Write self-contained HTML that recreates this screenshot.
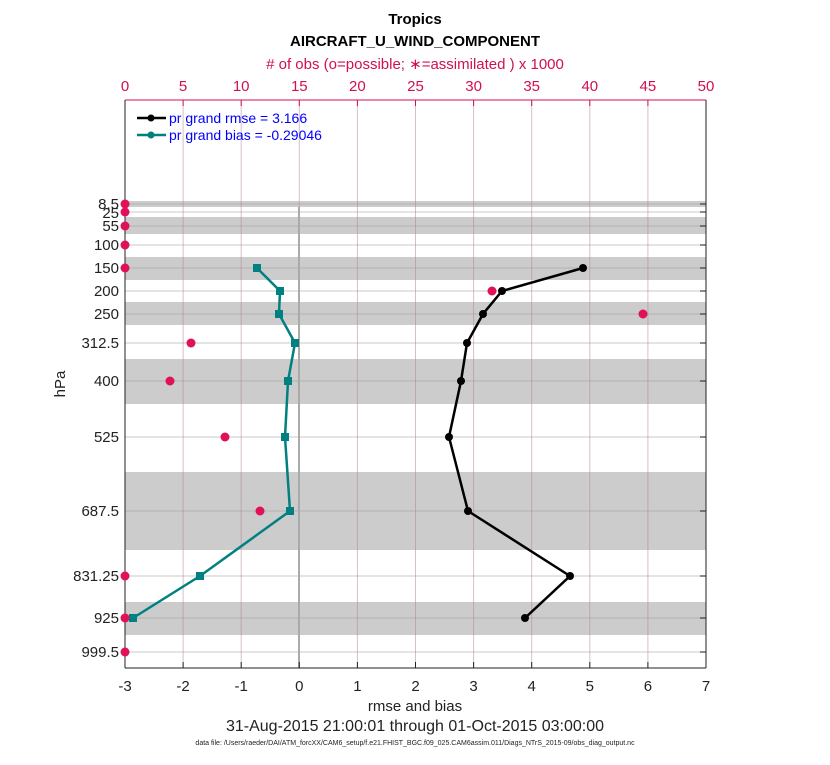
<!DOCTYPE html><html><head><style>body{margin:0;background:#fff}svg text{font-family:"Liberation Sans",sans-serif}</style></head><body>
<svg width="830" height="760" viewBox="0 0 830 760" xmlns="http://www.w3.org/2000/svg">
<rect width="830" height="760" fill="#fff"/>
<g fill="#cccccc">
<rect x="125" y="201" width="581" height="6"/>
<rect x="125" y="217" width="581" height="17"/>
<rect x="125" y="257" width="581" height="23"/>
<rect x="125" y="302" width="581" height="23"/>
<rect x="125" y="359" width="581" height="45"/>
<rect x="125" y="472" width="581" height="78"/>
<rect x="125" y="602" width="581" height="33"/>
</g>
<g stroke="#a0a0a0" stroke-opacity="0.45" stroke-width="1.2">
<line x1="125" x2="706" y1="204" y2="204"/><line x1="125" x2="706" y1="212" y2="212"/><line x1="125" x2="706" y1="226" y2="226"/><line x1="125" x2="706" y1="245" y2="245"/><line x1="125" x2="706" y1="268" y2="268"/><line x1="125" x2="706" y1="291" y2="291"/><line x1="125" x2="706" y1="314" y2="314"/><line x1="125" x2="706" y1="343" y2="343"/><line x1="125" x2="706" y1="381" y2="381"/><line x1="125" x2="706" y1="437" y2="437"/><line x1="125" x2="706" y1="511" y2="511"/><line x1="125" x2="706" y1="576" y2="576"/><line x1="125" x2="706" y1="618" y2="618"/><line x1="125" x2="706" y1="652" y2="652"/>
</g>
<g stroke="#b08090" stroke-opacity="0.5" stroke-width="1">
<line x1="183.1" x2="183.1" y1="100" y2="668"/><line x1="241.2" x2="241.2" y1="100" y2="668"/><line x1="299.3" x2="299.3" y1="100" y2="668"/><line x1="357.4" x2="357.4" y1="100" y2="668"/><line x1="415.5" x2="415.5" y1="100" y2="668"/><line x1="473.6" x2="473.6" y1="100" y2="668"/><line x1="531.7" x2="531.7" y1="100" y2="668"/><line x1="589.8" x2="589.8" y1="100" y2="668"/><line x1="647.9" x2="647.9" y1="100" y2="668"/>
</g>
<line x1="299" x2="299" y1="207" y2="668" stroke="#aaaaaa" stroke-width="2"/>
<!-- axes -->
<line x1="125" x2="706" y1="100" y2="100" stroke="#d0104f" stroke-width="1"/>
<line x1="125" x2="125" y1="100" y2="668" stroke="#222" stroke-width="1"/>
<line x1="706" x2="706" y1="100" y2="668" stroke="#222" stroke-width="1"/>
<line x1="125" x2="706" y1="668" y2="668" stroke="#222" stroke-width="1"/>
<g stroke="#222" stroke-width="1">
<line x1="183.1" x2="183.1" y1="668" y2="662"/><line x1="241.2" x2="241.2" y1="668" y2="662"/><line x1="299.3" x2="299.3" y1="668" y2="662"/><line x1="357.4" x2="357.4" y1="668" y2="662"/><line x1="415.5" x2="415.5" y1="668" y2="662"/><line x1="473.6" x2="473.6" y1="668" y2="662"/><line x1="531.7" x2="531.7" y1="668" y2="662"/><line x1="589.8" x2="589.8" y1="668" y2="662"/><line x1="647.9" x2="647.9" y1="668" y2="662"/>
<line x1="700" x2="706" y1="204" y2="204"/><line x1="700" x2="706" y1="212" y2="212"/><line x1="700" x2="706" y1="226" y2="226"/><line x1="700" x2="706" y1="245" y2="245"/><line x1="700" x2="706" y1="268" y2="268"/><line x1="700" x2="706" y1="291" y2="291"/><line x1="700" x2="706" y1="314" y2="314"/><line x1="700" x2="706" y1="343" y2="343"/><line x1="700" x2="706" y1="381" y2="381"/><line x1="700" x2="706" y1="437" y2="437"/><line x1="700" x2="706" y1="511" y2="511"/><line x1="700" x2="706" y1="576" y2="576"/><line x1="700" x2="706" y1="618" y2="618"/><line x1="700" x2="706" y1="652" y2="652"/>
</g>
<g stroke="#d0104f" stroke-width="1">
<line x1="183.1" x2="183.1" y1="100" y2="106"/><line x1="241.2" x2="241.2" y1="100" y2="106"/><line x1="299.3" x2="299.3" y1="100" y2="106"/><line x1="357.4" x2="357.4" y1="100" y2="106"/><line x1="415.5" x2="415.5" y1="100" y2="106"/><line x1="473.6" x2="473.6" y1="100" y2="106"/><line x1="531.7" x2="531.7" y1="100" y2="106"/><line x1="589.8" x2="589.8" y1="100" y2="106"/><line x1="647.9" x2="647.9" y1="100" y2="106"/>
</g>
<!-- series -->
<polyline fill="none" stroke="#008080" stroke-width="2.5" points="257,268 280,291 279,314 295,343 288,381 285,437 290,511 200,576 133,618"/>
<g fill="#008080"><rect x="253" y="264" width="8" height="8"/><rect x="276" y="287" width="8" height="8"/><rect x="275" y="310" width="8" height="8"/><rect x="291" y="339" width="8" height="8"/><rect x="284" y="377" width="8" height="8"/><rect x="281" y="433" width="8" height="8"/><rect x="286" y="507" width="8" height="8"/><rect x="196" y="572" width="8" height="8"/><rect x="129" y="614" width="8" height="8"/></g>
<polyline fill="none" stroke="#000" stroke-width="2.5" points="583,268 502,291 483,314 467,343 461,381 449,437 468,511 570,576 525,618"/>
<g fill="#000"><circle cx="583" cy="268" r="4"/><circle cx="502" cy="291" r="4"/><circle cx="483" cy="314" r="4"/><circle cx="467" cy="343" r="4"/><circle cx="461" cy="381" r="4"/><circle cx="449" cy="437" r="4"/><circle cx="468" cy="511" r="4"/><circle cx="570" cy="576" r="4"/><circle cx="525" cy="618" r="4"/></g>
<g fill="#e0105a">
<circle cx="125" cy="204" r="4.5"/><circle cx="125" cy="212" r="4.5"/><circle cx="125" cy="226" r="4.5"/><circle cx="125" cy="245" r="4.5"/><circle cx="125" cy="268" r="4.5"/><circle cx="492" cy="291" r="4.5"/><circle cx="643" cy="314" r="4.5"/><circle cx="191" cy="343" r="4.5"/><circle cx="170" cy="381" r="4.5"/><circle cx="225" cy="437" r="4.5"/><circle cx="260" cy="511" r="4.5"/><circle cx="125" cy="576" r="4.5"/><circle cx="125" cy="618" r="4.5"/><circle cx="125" cy="652" r="4.5"/>
</g>
<!-- legend -->
<line x1="137" x2="166" y1="118" y2="118" stroke="#000" stroke-width="2.5"/><circle cx="151" cy="118" r="3.5"/>
<line x1="137" x2="166" y1="135" y2="135" stroke="#008080" stroke-width="2.5"/><circle cx="151" cy="135" r="3.5" fill="#008080"/>
<text x="169" y="123" font-size="14" fill="#0000ff">pr grand rmse = 3.166</text>
<text x="169" y="140" font-size="14" fill="#0000ff">pr grand bias = -0.29046</text>
<!-- labels -->
<g font-size="15" fill="#222" text-anchor="end">
<text x="119" y="209">8.5</text><text x="119" y="218">25</text><text x="119" y="231">55</text><text x="119" y="250">100</text><text x="119" y="273">150</text><text x="119" y="296">200</text><text x="119" y="319">250</text><text x="119" y="348">312.5</text><text x="119" y="386">400</text><text x="119" y="442">525</text><text x="119" y="516">687.5</text><text x="119" y="581">831.25</text><text x="119" y="623">925</text><text x="119" y="657">999.5</text>
</g>
<g font-size="15" fill="#222" text-anchor="middle">
<text x="125" y="691">-3</text><text x="183.1" y="691">-2</text><text x="241.2" y="691">-1</text><text x="299.3" y="691">0</text><text x="357.4" y="691">1</text><text x="415.5" y="691">2</text><text x="473.6" y="691">3</text><text x="531.7" y="691">4</text><text x="589.8" y="691">5</text><text x="647.9" y="691">6</text><text x="706" y="691">7</text>
<text x="415" y="711">rmse and bias</text>
<text x="415" y="731" font-size="16">31-Aug-2015 21:00:01 through 01-Oct-2015 03:00:00</text>
<text x="415" y="745" font-size="7">data file: /Users/raeder/DAI/ATM_forcXX/CAM6_setup/f.e21.FHIST_BGC.f09_025.CAM6assim.011/Diags_NTrS_2015-09/obs_diag_output.nc</text>
</g>
<g font-size="15" fill="#d0104f" text-anchor="middle">
<text x="125" y="91">0</text><text x="183.1" y="91">5</text><text x="241.2" y="91">10</text><text x="299.3" y="91">15</text><text x="357.4" y="91">20</text><text x="415.5" y="91">25</text><text x="473.6" y="91">30</text><text x="531.7" y="91">35</text><text x="589.8" y="91">40</text><text x="647.9" y="91">45</text><text x="706" y="91">50</text>
<text x="415" y="69" font-size="15">#&#160;of obs (o=possible; &#8727;=assimilated ) x 1000</text>
</g>
<text x="415" y="24" font-size="15" font-weight="bold" text-anchor="middle" fill="#000">Tropics</text>
<text x="415" y="46" font-size="15" font-weight="bold" text-anchor="middle" fill="#000">AIRCRAFT_U_WIND_COMPONENT</text>
<text transform="translate(65,384) rotate(-90)" font-size="15" text-anchor="middle" fill="#222">hPa</text>
</svg>
</body></html>
